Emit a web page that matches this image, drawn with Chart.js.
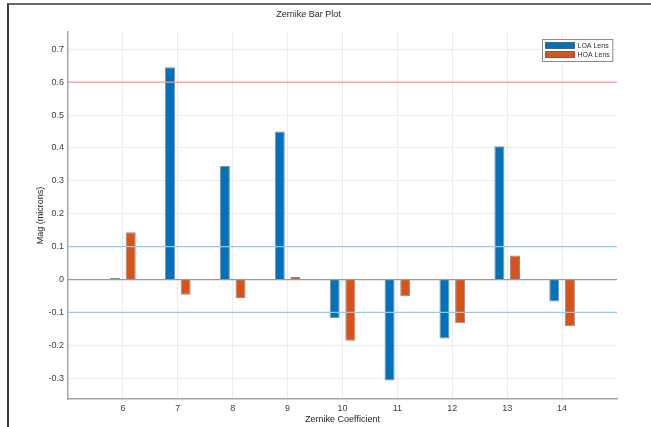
<!DOCTYPE html>
<html>
<head>
<meta charset="utf-8">
<script src="https://cdn.jsdelivr.net/npm/chart.js@4/dist/chart.umd.min.js"></script>
<style>
    html, body { margin: 0; padding: 0; background: #fff; }
    #wrap { position: relative; width: 651px; height: 427px; overflow: hidden; }
    #c { position: absolute; left: 0; top: 0; }
    /* figure frame, only top and left edges are visible in the picture */
    .frame {
        position: absolute; left: 7px; top: 3px; right: -4px; bottom: -4px;
        border-top: 2px solid #6a6a6a; border-left: 2px solid #3a3a3a;
        pointer-events: none;
    }
</style>
</head>
<body>
<div id="wrap">
    <canvas id="c" width="651" height="427"></canvas>
    <div class="frame"></div>
</div>
<script>
// Zernike coefficient indices (x categories)
const coefficients = [6, 7, 8, 9, 10, 11, 12, 13, 14]

// bar heights, microns
const loaValues = [0.005, 0.645, 0.345, 0.450, -0.117, -0.307, -0.179, 0.405, -0.067]
const hoaValues = [0.144, -0.046, -0.056, 0.008, -0.186, -0.051, -0.133, 0.073, -0.142]

const seriesNames = ['LOA Lens', 'HOA Lens']

// y ticks and their labels
const yTicks = [-0.3, -0.2, -0.1, 0, 0.1, 0.2, 0.3, 0.4, 0.5, 0.6, 0.7]
const yTickLabels = ['-0.3', '-0.2', '-0.1', '0', '0.1', '0.2', '0.3', '0.4', '0.5', '0.6', '0.7']

// horizontal reference levels
const limitLevel = [0.6]
const toleranceLevels = [0.1, -0.1]

const FONT = "'Liberation Sans', Arial, Helvetica, sans-serif"
const BLUE = '#0072BD'
const ORANGE = '#D95319'

// draws the gray zero baseline and the red/blue horizontal reference lines
const refLinesPlugin = {
    id: 'refLines',
    afterDatasetsDraw(chart) {
        const { ctx, chartArea, scales: { y } } = chart

        function hline(value, color, width) {
            const py = y.getPixelForValue(value)
            ctx.save()
            ctx.strokeStyle = color
            ctx.lineWidth = width
            ctx.beginPath()
            ctx.moveTo(chartArea.left, py)
            ctx.lineTo(chartArea.right, py)
            ctx.stroke()
            ctx.restore()
        }

        hline(0, '#9a9a9a', 1.2)
        for (const v of limitLevel) hline(v, '#f29a9a', 1.2)
        for (const v of toleranceLevels) hline(v, '#86cff0', 1.3)
    }
}

// MATLAB style legend box in the top right corner of the axes
const boxLegendPlugin = {
    id: 'boxLegend',
    afterDraw(chart) {
        const { ctx, chartArea } = chart
        const sets = chart.data.datasets
        ctx.save()
        ctx.font = '7px ' + FONT
        let textW = 0
        sets.forEach(ds => { textW = Math.max(textW, ctx.measureText(ds.label).width) })

        const swatchW = 29, swatchH = 6, rowH = 9, pad = 3
        const boxW = pad + swatchW + 3 + textW + pad
        const boxH = pad + rowH * sets.length + 1
        const x0 = Math.round(chartArea.right - 5 - boxW) + 0.5
        const y0 = Math.round(chartArea.top + 7) + 0.5

        ctx.fillStyle = '#fff'
        ctx.fillRect(x0, y0, boxW, boxH)
        ctx.strokeStyle = '#8c8c8c'
        ctx.lineWidth = 1
        ctx.strokeRect(x0, y0, boxW, boxH)

        sets.forEach((ds, i) => {
            const rowY = y0 + pad + i * rowH
            ctx.fillStyle = ds.backgroundColor
            ctx.fillRect(x0 + pad, rowY, swatchW, swatchH)
            ctx.strokeStyle = 'rgba(0,0,0,0.45)'
            ctx.strokeRect(x0 + pad, rowY, swatchW, swatchH)
            ctx.fillStyle = '#333'
            ctx.textBaseline = 'middle'
            ctx.fillText(ds.label, x0 + pad + swatchW + 3, rowY + swatchH / 2 + 0.5)
        })
        ctx.restore()
    }
}

let ctx = document.getElementById('c').getContext('2d')

new Chart(ctx, {
    type: 'bar',
    data: {
        datasets: [
            {
                label: seriesNames[0],
                data: coefficients.map((c, i) => ({ x: c, y: loaValues[i] })),
                backgroundColor: BLUE,
                borderColor: 'rgba(0,0,0,0.45)',
                borderWidth: 1
            },
            {
                label: seriesNames[1],
                data: coefficients.map((c, i) => ({ x: c, y: hoaValues[i] })),
                backgroundColor: ORANGE,
                borderColor: 'rgba(0,0,0,0.45)',
                borderWidth: 1
            }
        ]
    },
    options: {
        responsive: false,
        animation: false,
        devicePixelRatio: 1,
        categoryPercentage: 0.57,
        barPercentage: 0.64,
        layout: { padding: { left: 0, right: 34, top: 0, bottom: 0 } },
        plugins: {
            legend: { display: false },
            tooltip: { enabled: false },
            title: {
                display: true,
                text: 'Zernike Bar Plot',
                color: '#262626',
                font: { family: FONT, size: 9, weight: 'normal' },
                padding: { top: 9, bottom: 12 }
            }
        },
        scales: {
            x: {
                type: 'linear',
                min: 5,
                max: 15,
                offset: false,
                afterBuildTicks: axis => { axis.ticks = coefficients.map(v => ({ value: v })) },
                afterFit: axis => { axis.height = 28 },
                grid: { color: '#ececec', offset: false, drawTicks: false },
                border: { color: '#a6a6a6', width: 1.5 },
                ticks: {
                    color: '#404040',
                    padding: 4,
                    maxRotation: 0,
                    font: { family: FONT, size: 9 },
                    callback: v => String(v)
                },
                title: {
                    display: true,
                    text: 'Zernike Coefficient',
                    color: '#262626',
                    font: { family: FONT, size: 9 },
                    padding: { top: 0, bottom: 2 }
                }
            },
            y: {
                min: -0.363,
                max: 0.753,
                afterBuildTicks: axis => { axis.ticks = yTicks.map(v => ({ value: v })) },
                afterFit: axis => { axis.width = 68 },
                grid: { color: '#ececec', drawTicks: false },
                border: { color: '#a6a6a6', width: 1.5 },
                ticks: {
                    color: '#404040',
                    padding: 4,
                    font: { family: FONT, size: 9 },
                    callback: (v, i) => yTickLabels[i]
                },
                title: {
                    display: true,
                    text: 'Mag (microns)',
                    color: '#262626',
                    font: { family: FONT, size: 9 },
                    padding: { top: 35, bottom: 0 }
                }
            }
        }
    },
    plugins: [refLinesPlugin, boxLegendPlugin]
})
</script>
</body>
</html>
